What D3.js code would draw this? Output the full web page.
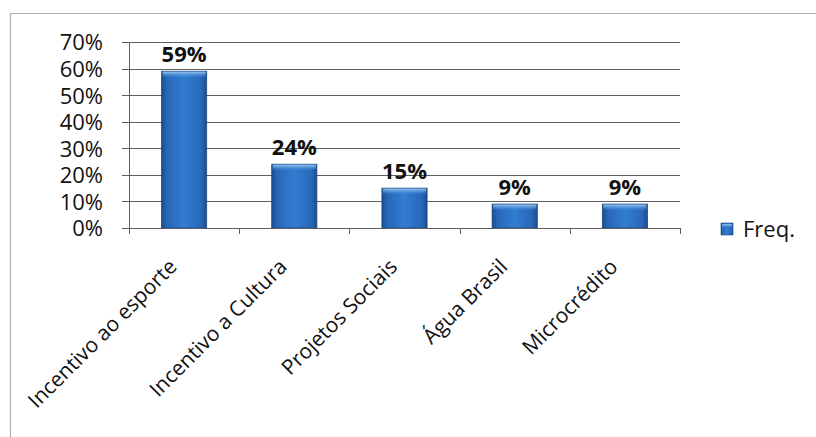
<!DOCTYPE html>
<html>
<head>
<meta charset="utf-8">
<script src="https://cdn.jsdelivr.net/npm/d3@7/dist/d3.min.js"></script>
<style>
  html, body { margin: 0; padding: 0; background: #ffffff; }
  svg { display: block; }
  text { font-family: "Open Sans", "Liberation Sans", sans-serif; fill: #111; }
</style>
</head>
<body>
<svg id="chart" width="816" height="437"></svg>
<script>
// Survey answers: share of respondents per programme
const categories = ["Incentivo ao esporte", "Incentivo a Cultura", "Projetos Sociais", "Água Brasil", "Microcrédito"];
const freq = [0.59, 0.24, 0.15, 0.09, 0.09];
const yTicks = [0, 0.1, 0.2, 0.3, 0.4, 0.5, 0.6, 0.7];
const seriesName = "Freq.";

const svg = d3.select("#chart");
const W = 816, H = 437;
const plot = { left: 129, right: 680, top: 42, bottom: 228 };

// frame lines (top and left edges)
svg.append("line").attr("x1", 10).attr("x2", W).attr("y1", 13.5).attr("y2", 13.5)
  .attr("stroke", "#b0b0b0").attr("stroke-width", 1.2);
svg.append("line").attr("x1", 10.5).attr("x2", 10.5).attr("y1", 13).attr("y2", H)
  .attr("stroke", "#b0b0b0").attr("stroke-width", 1.2);

const x = d3.scaleBand().domain(categories).range([plot.left, plot.right]).paddingInner(0).paddingOuter(0);
const y = d3.scaleLinear().domain([0, 0.7]).range([plot.bottom, plot.top]);

const defs = svg.append("defs");
const gH = defs.append("linearGradient").attr("id", "barH").attr("x1", "0").attr("x2", "1").attr("y1", "0").attr("y2", "0");
gH.append("stop").attr("offset", "0%").attr("stop-color", "#1a4c8e");
gH.append("stop").attr("offset", "12%").attr("stop-color", "#2867b8");
gH.append("stop").attr("offset", "50%").attr("stop-color", "#317dd2");
gH.append("stop").attr("offset", "88%").attr("stop-color", "#2867b8");
gH.append("stop").attr("offset", "100%").attr("stop-color", "#1a4c8e");
const gT = defs.append("linearGradient").attr("id", "barTop").attr("x1", "0").attr("x2", "0").attr("y1", "0").attr("y2", "1");
gT.append("stop").attr("offset", "0%").attr("stop-color", "#9cc8f3").attr("stop-opacity", 0.95);
gT.append("stop").attr("offset", "100%").attr("stop-color", "#4a94e0").attr("stop-opacity", 0);

// horizontal gridlines with small ticks to the left of the axis
const grid = svg.append("g");
grid.selectAll("line").data(yTicks).join("line")
  .attr("x1", plot.left - 7).attr("x2", plot.right)
  .attr("y1", d => Math.round(y(d)) + 0.5).attr("y2", d => Math.round(y(d)) + 0.5)
  .attr("stroke", "#5f5f5f").attr("stroke-width", 1);

// y axis tick labels
const yAxis = d3.axisLeft(y).tickValues(yTicks).tickFormat(d3.format(".0%")).tickSize(0).tickPadding(0);
const ya = svg.append("g").attr("transform", `translate(${plot.left - 26},0)`).call(yAxis);
ya.select(".domain").remove();
ya.selectAll("text").attr("font-size", 22).attr("font-family", "Open Sans").attr("fill", "#111").attr("dy", "0.36em");

// bars
const bw = x.bandwidth() * 0.41;
const bars = svg.append("g");
bars.selectAll("rect.bar").data(freq).join("rect").attr("class", "bar")
  .attr("x", (d, i) => x(categories[i]) + (x.bandwidth() - bw) / 2)
  .attr("width", bw)
  .attr("y", d => y(d))
  .attr("height", d => y(0) - y(d))
  .attr("fill", "url(#barH)")
  .attr("stroke", "#1d4a85").attr("stroke-width", 0.8);
bars.selectAll("rect.cap").data(freq).join("rect").attr("class", "cap")
  .attr("x", (d, i) => x(categories[i]) + (x.bandwidth() - bw) / 2 + 1)
  .attr("width", bw - 2)
  .attr("y", d => y(d) + 0.5)
  .attr("height", 6)
  .attr("fill", "url(#barTop)");

// axes lines
svg.append("line").attr("x1", plot.left + 0.5).attr("x2", plot.left + 0.5)
  .attr("y1", plot.top).attr("y2", plot.bottom + 6).attr("stroke", "#5f5f5f");
const xAxis = d3.axisBottom(x).tickSize(0).tickFormat("");
const xa = svg.append("g").attr("transform", `translate(0,${Math.round(y(0)) + 0.5})`).call(xAxis);
xa.select(".domain").attr("stroke", "#5f5f5f").attr("d", `M${plot.left},0H${plot.right}`);
// category boundary ticks
const bounds = categories.map(c => x(c)).concat([plot.right]);
svg.append("g").selectAll("line").data(bounds).join("line")
  .attr("x1", d => Math.round(d) + 0.5).attr("x2", d => Math.round(d) + 0.5)
  .attr("y1", plot.bottom).attr("y2", plot.bottom + 6).attr("stroke", "#5f5f5f");

// value labels
svg.append("g").selectAll("text").data(freq).join("text")
  .attr("x", (d, i) => x(categories[i]) + x.bandwidth() / 2)
  .attr("y", d => y(d) - 9)
  .attr("text-anchor", "middle")
  .attr("font-size", 22).attr("font-weight", "bold")
  .text(d => d3.format(".0%")(d));

// rotated category labels
svg.append("g").selectAll("text").data(categories).join("text")
  .attr("transform", d => `translate(${x(d) + x.bandwidth() / 2 - 6},${plot.bottom + 40}) rotate(-45)`)
  .attr("text-anchor", "end")
  .attr("font-size", 21)
  .text(d => d);

// legend
const lg = svg.append("g").attr("transform", "translate(721,223)");
lg.append("rect").attr("width", 12).attr("height", 12).attr("fill", "url(#barH)").attr("stroke", "#1d4a85").attr("stroke-width", 0.6);
lg.append("rect").attr("x", 1).attr("y", 1).attr("width", 10).attr("height", 4).attr("fill", "url(#barTop)");
lg.append("text").attr("x", 22).attr("y", 14).attr("font-size", 22).text(seriesName);
</script>
</body>
</html>
